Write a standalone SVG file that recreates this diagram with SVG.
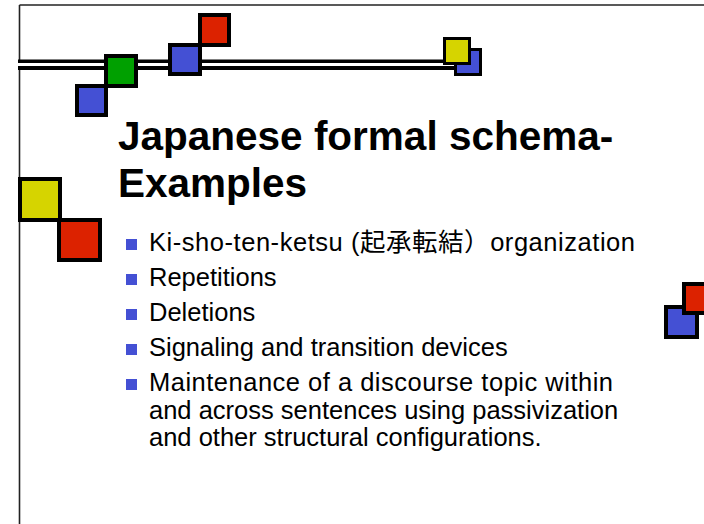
<svg xmlns="http://www.w3.org/2000/svg" width="704" height="524" viewBox="0 0 704 524">
  <style>
    .sq { stroke: #000; stroke-width: 4; }
    .sq-s { stroke: #000; stroke-width: 3; }
    .blue { fill: #4450d4; }
    .green { fill: #00a000; }
    .red { fill: #dc2200; }
    .yellow { fill: #d6d400; }
    .title { font-family: "Liberation Sans", Arial, sans-serif; font-weight: bold; font-size: 40.5px; fill: #000; }
    .body { font-family: "Liberation Sans", "Noto Sans CJK JP", Arial, sans-serif; font-size: 25.5px; fill: #000; }
    .bullet { fill: #4450d4; }
  </style>
  <rect width="704" height="524" fill="#fff"/>

  <!-- slide frame -->
  <g id="frame" fill="none" stroke="#222">
    <line x1="19.5" y1="5" x2="704" y2="5" stroke-width="1.6"/>
    <line x1="19.5" y1="5" x2="19.5" y2="524" stroke-width="1.6"/>
  </g>

  <!-- double rule across the top -->
  <g id="rule">
    <rect x="18" y="59.5" width="440" height="10.5" fill="#000"/>
    <rect x="18" y="63" width="440" height="3" fill="#fff"/>
  </g>

  <!-- decorative squares, top chain -->
  <g id="top-squares">
    <rect class="sq blue" x="77" y="86" width="29" height="29"/>
    <rect class="sq green" x="106" y="56" width="30" height="30"/>
    <rect class="sq blue" x="170" y="45" width="30" height="29"/>
    <rect class="sq red" x="200" y="15" width="29" height="30"/>
  </g>

  <!-- small pair at the end of the rule -->
  <g id="rule-squares">
    <rect class="sq-s blue" x="455.5" y="49.5" width="25" height="25"/>
    <rect class="sq-s yellow" x="444.5" y="38.5" width="25" height="25"/>
  </g>

  <!-- left pair -->
  <g id="left-squares">
    <rect class="sq yellow" x="20" y="179" width="40" height="41"/>
    <rect class="sq red" x="59" y="220" width="41" height="40"/>
  </g>

  <!-- right pair -->
  <g id="right-squares">
    <rect class="sq blue" x="666" y="307" width="31" height="30"/>
    <rect class="sq red" x="684" y="284" width="30" height="29"/>
  </g>

  <!-- title -->
  <g id="title">
    <text class="title" x="118" y="150">Japanese formal schema-</text>
    <text class="title" x="118" y="197">Examples</text>
  </g>

  <!-- bullet list -->
  <g id="bullets">
    <rect class="bullet" x="126" y="239" width="11" height="11"/>
    <text class="body" x="149" y="251" textLength="486" lengthAdjust="spacing">Ki-sho-ten-ketsu (起承転結）organization</text>
    <rect class="bullet" x="126" y="274" width="11" height="11"/>
    <text class="body" x="149" y="286">Repetitions</text>
    <rect class="bullet" x="126" y="309" width="11" height="11"/>
    <text class="body" x="149" y="321">Deletions</text>
    <rect class="bullet" x="126" y="344" width="11" height="11"/>
    <text class="body" x="149" y="356">Signaling and transition devices</text>
    <rect class="bullet" x="126" y="379" width="11" height="11"/>
    <text class="body" x="149" y="391" textLength="464" lengthAdjust="spacing">Maintenance of a discourse topic within</text>
    <text class="body" x="149" y="418.5">and across sentences using passivization</text>
    <text class="body" x="149" y="446">and other structural configurations.</text>
  </g>
</svg>
